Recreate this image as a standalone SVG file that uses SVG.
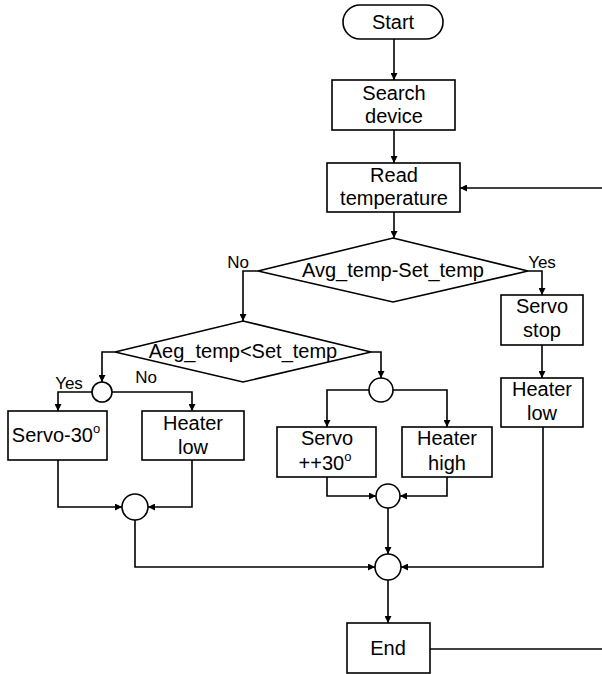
<svg xmlns="http://www.w3.org/2000/svg" width="602" height="674" viewBox="0 0 602 674">
<style>
.b{fill:#fff;stroke:#000;stroke-width:1.6}
.t{font-family:"Liberation Sans",Arial,sans-serif;font-size:20px;fill:#000;text-anchor:middle}
.l{font-family:"Liberation Sans",Arial,sans-serif;font-size:17px;fill:#000;text-anchor:middle}
.c{fill:none;stroke:#000;stroke-width:1.6}
.a{marker-end:url(#ah)}
</style>
<defs>
<marker id="ah" viewBox="0 0 10 10" refX="10" refY="5" markerWidth="7" markerHeight="7" markerUnits="userSpaceOnUse" orient="auto">
<path d="M0,0 L10,5 L0,10 z" fill="#000"/>
</marker>
</defs>
<rect width="602" height="674" fill="#fff"/>
<g id="connectors">
<path class="c a" d="M394,39 V80"/>
<path class="c a" d="M394,130 V163"/>
<path class="c a" d="M602,188 H460"/>
<path class="c a" d="M394,212 V238"/>
<path class="c a" d="M258,271 H243 V321"/>
<path class="c a" d="M528,271 H542 V295"/>
<path class="c a" d="M542,345 V378"/>
<path class="c a" d="M115,352 H102 V382"/>
<path class="c a" d="M92,392 H58 V411"/>
<path class="c a" d="M112,392 H192 V411"/>
<path class="c a" d="M371,352 H381 V378"/>
<path class="c a" d="M369,390 H327 V427"/>
<path class="c a" d="M393,390 H447 V427"/>
<path class="c a" d="M58,460 V507 H122"/>
<path class="c a" d="M192,460 V507 H148"/>
<path class="c a" d="M327,477 V496 H376"/>
<path class="c a" d="M447,477 V496 H400"/>
<path class="c a" d="M388,508 V554"/>
<path class="c a" d="M135,520 V567 H375"/>
<path class="c a" d="M543,427 V567 H401"/>
<path class="c a" d="M388,580 V623"/>
<path class="c" d="M430,649 H602"/>
</g>
<g id="start"><rect class="b" x="343" y="5" width="100" height="34" rx="17"/><text class="t" x="393" y="29">Start</text></g>
<g id="search"><rect class="b" x="332" y="80" width="123" height="50"/><text class="t" x="394" y="100">Search</text><text class="t" x="394" y="123">device</text></g>
<g id="read"><rect class="b" x="327" y="163" width="133" height="49"/><text class="t" x="394" y="182">Read</text><text class="t" x="394" y="205">temperature</text></g>
<g id="dec1"><polygon class="b" points="393,238 528,271 393,302 258,271"/><text class="t" x="393" y="277">Avg_temp-Set_temp</text></g>
<g id="lbl-no1"><text class="l" x="238" y="268">No</text></g>
<g id="lbl-yes1"><text class="l" x="542" y="268">Yes</text></g>
<g id="servostop"><rect class="b" x="501" y="295" width="82" height="50"/><text class="t" x="542" y="313">Servo</text><text class="t" x="542" y="337">stop</text></g>
<g id="heaterlow2"><rect class="b" x="501" y="378" width="82" height="49"/><text class="t" x="542" y="396">Heater</text><text class="t" x="542" y="420">low</text></g>
<g id="dec2"><polygon class="b" points="243,321 371,352 243,382 115,352"/><text class="t" x="243" y="358">Aeg_temp&lt;Set_temp</text></g>
<g id="j1"><circle class="b" cx="102" cy="392" r="10"/></g>
<g id="lbl-yes2"><text class="l" x="69" y="389">Yes</text></g>
<g id="lbl-no2"><text class="l" x="146" y="383">No</text></g>
<g id="servo30"><rect class="b" x="8" y="411" width="99" height="49"/><text class="t" x="56" y="442">Servo-30<tspan font-size="13" dy="-9">o</tspan></text></g>
<g id="heaterlow1"><rect class="b" x="142" y="411" width="102" height="49"/><text class="t" x="193" y="430">Heater</text><text class="t" x="193" y="454">low</text></g>
<g id="j2"><circle class="b" cx="381" cy="390" r="12"/></g>
<g id="servopp"><rect class="b" x="277" y="427" width="99" height="50"/><text class="t" x="327" y="445">Servo</text><text class="t" x="325" y="470">++30<tspan font-size="13" dy="-9">o</tspan></text></g>
<g id="heaterhigh"><rect class="b" x="402" y="427" width="90" height="50"/><text class="t" x="447" y="445">Heater</text><text class="t" x="447" y="470">high</text></g>
<g id="m1"><circle class="b" cx="135" cy="507" r="13"/></g>
<g id="m2"><circle class="b" cx="388" cy="496" r="12"/></g>
<g id="m3"><circle class="b" cx="388" cy="567" r="13"/></g>
<g id="end"><rect class="b" x="347" y="623" width="83" height="50"/><text class="t" x="388" y="655">End</text></g>
</svg>
